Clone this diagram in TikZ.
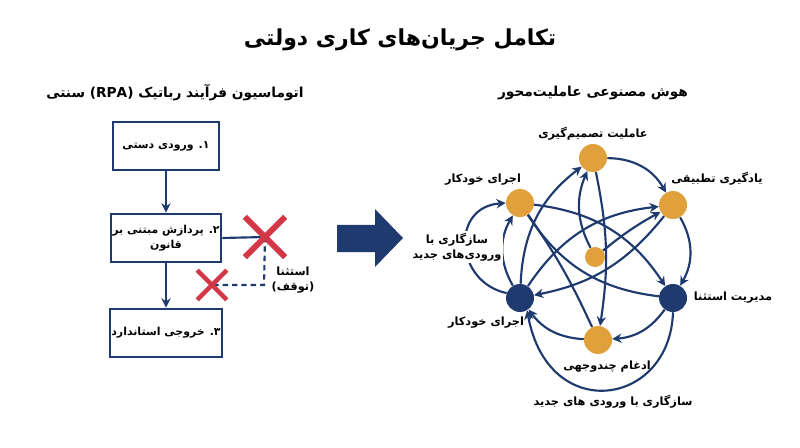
\documentclass[tikz,border=0pt]{standalone}
\usepackage{fontspec}
\usepackage{tikz}
\usetikzlibrary{arrows.meta,positioning,shapes.misc,backgrounds}
\TeXXeTstate=1
\newfontfamily\fa[Script=Arabic]{DejaVu Sans}
\newcommand{\fatxt}[1]{\beginR #1\endR}
\definecolor{navy}{HTML}{1F3A6E}
\definecolor{amber}{HTML}{E0A03C}
\definecolor{xred}{HTML}{D23746}

\begin{document}
\begin{tikzpicture}[x=0.75pt,y=0.75pt,
  head/.style={font=\fa\bfseries\fontsize{16.5}{19}\selectfont},
  sub/.style={font=\fa\bfseries\fontsize{10.3}{13}\selectfont},
  box/.style={draw=navy,line width=2.1pt,minimum width=79.5pt,minimum height=36pt,
    align=center,inner sep=1pt,font=\fa\bfseries\fontsize{8.2}{11.5}\selectfont},
  lbl/.style={align=center,inner sep=1pt,font=\fa\bfseries\fontsize{8.5}{11.5}\selectfont},
  xmark/.style={cross out,draw=xred,line width=4.3pt,inner sep=0pt},
  dot/.style={circle,fill=amber,minimum size=21pt,inner sep=0pt},
  hub/.style={circle,fill=navy,minimum size=21pt,inner sep=0pt},
  flow/.style={navy,line width=1.8pt,-{Stealth[length=7pt,width=7pt]}},
  link/.style={navy,line width=1.6pt,-{Stealth[length=7pt,width=7pt]}}]
  \useasboundingbox (0,0) rectangle (800,447);

  % title and column heads
  \node[head] (title) at (400,407) {\fatxt{تکامل جریان‌های کاری دولتی}};
  \node[sub] (rpa) at (175,354) {\fatxt{اتوماسیون فرآیند رباتیک \beginL(RPA)\endL{} سنتی}};
  \node[sub] (agent) at (593,354) {\fatxt{هوش مصنوعی عاملیت‌محور}};

  % left: rule based steps
  \node[box] (s1) at (166,301) {\fatxt{۱. ورودی دستی}};
  \node[box] (s2) at (166,209) {\fatxt{۲. پردازش مبتنی بر}\\\fatxt{قانون}};
  \node[box] (s3) at (166,114) {\fatxt{۳. خروجی استاندارد}};
  \node[xmark,minimum size=26pt] (xbig) at (265,210) {};
  \node[xmark,minimum size=19pt,line width=3.2pt] (xsmall) at (212,162) {};
  \coordinate (turn) at (264,162);
  \node[lbl] (stop) at (293,167) {\fatxt{استثنا}\\\fatxt{(توقف)}};
  \begin{scope}[on background layer]
    \draw[flow] (s1) -- (s2);
    \draw[flow] (s2) -- (s3);
    \draw[navy,line width=1.6pt] (s2.east) -- (xbig.center);
    \draw[navy,line width=1.6pt,dash pattern=on 4pt off 3pt] (xbig.center) -- (turn) -- (xsmall.center);
  \end{scope}

  % middle: shift arrow
  \fill[navy] (337,195) -- (375,195) -- (375,180) -- (403,209) -- (375,238) -- (375,222) -- (337,222) -- cycle;

  % right: agent network
  \node[dot] (dec) at (593,289) {};
  \node[dot] (exe) at (520,244) {};
  \node[dot] (learn) at (673,242) {};
  \node[dot,minimum size=15pt] (core) at (595,190) {};
  \node[hub] (auto) at (520,149) {};
  \node[hub] (exc) at (673,149) {};
  \node[dot] (fuse) at (598,107) {};

  \node[lbl] at (593,313) {\fatxt{عاملیت تصمیم‌گیری}};
  \node[lbl] at (483,267) {\fatxt{اجرای خودکار}};
  \node[lbl] at (717,268) {\fatxt{یادگیری تطبیقی}};
  \node[lbl] at (733,149) {\fatxt{مدیریت استثنا}};
  \node[lbl] at (486,124) {\fatxt{اجرای خودکار}};
  \node[lbl] at (607,80) {\fatxt{ادغام چندوجهی}};
  \node[lbl] at (613,45) {\fatxt{سازگاری با ورودی های جدید}};

  \begin{scope}[on background layer]
    % outer ring
    \draw[link] (dec) to[bend left=30] (learn);
    \draw[link] (learn) to[bend left=30] (exc);
    \draw[link] (exc) to[bend left=25] (fuse);
    \draw[link] (fuse) to[bend left=25] (auto);
    \draw[link] (auto) to[bend left=30] (exe);
    \draw[link] (auto) to[bend left=25] (dec);
    % cross links
    \draw[link] (dec) to[bend left=10] (fuse);
    \draw[link] (core) to[bend left=25] (dec);
    \draw[link] (core) to[bend left=5] (learn);
    \draw[link] (auto) to[bend left=25] (learn);
    \draw[link] (learn) to[bend left=20] (auto);
    \draw[link] (exe) to[bend left=25] (exc);
    \draw[navy,line width=1.6pt] (exe) to[bend right=25] (exc);
    \draw[navy,line width=1.6pt] (exe) to[bend left=5] (fuse);
    % outer loops
    \draw[link] (auto.160) .. controls (455,165) and (450,240) .. (exe.west);
    \draw[link] (exc.south) .. controls (670,40) and (548,22) .. (auto.-60);
  \end{scope}
  \node[lbl,fill=white] (adapt) at (457,200) {\fatxt{سازگاری با}\\\fatxt{ورودی‌های جدید}};
\end{tikzpicture}
\end{document}
